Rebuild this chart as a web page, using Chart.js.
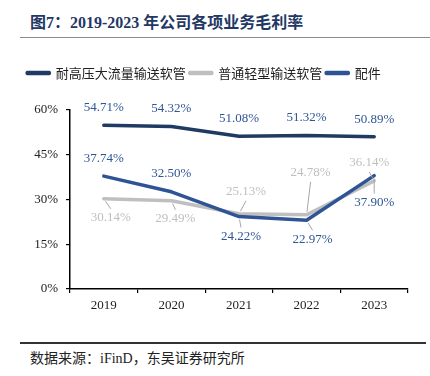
<!DOCTYPE html>
<html>
<head>
<meta charset="utf-8">
<script src="https://cdn.jsdelivr.net/npm/chart.js@4.4.0/dist/chart.umd.min.js"></script>
<style>
  body { margin: 0; width: 430px; height: 376px; background: #fff; position: relative; overflow: hidden; }
  .title { position: absolute; left: 30px; top: 9px; font: bold 16px "Liberation Serif", "Noto Sans CJK SC", serif; color: #1F3864; white-space: nowrap; }
  .rule-top { position: absolute; left: 20px; top: 37px; width: 410px; height: 1px; background: #8c8c8c; }
  .rule-bottom { position: absolute; left: 20px; top: 342px; width: 406px; height: 2px; background: #333; }
  .source { position: absolute; left: 30px; top: 347px; font: 14px "Liberation Serif", "Noto Sans CJK SC", serif; color: #222; white-space: nowrap; }
  #wrap { position: absolute; left: 0; top: 45px; width: 430px; height: 290px; }
</style>
</head>
<body>
<div class="title">图7：2019-2023 年公司各项业务毛利率</div>
<div class="rule-top"></div>
<div id="wrap"><canvas id="chart"></canvas></div>
<div class="rule-bottom"></div>
<div class="source">数据来源：iFinD，东吴证券研究所</div>

<script>
// data
const years = ['2019', '2020', '2021', '2022', '2023'];
const seriesNames = ['耐高压大流量输送软管', '普通轻型输送软管', '配件'];
const heavyHose = [54.71, 54.32, 51.08, 51.32, 50.89];
const lightHose = [30.14, 29.49, 25.13, 24.78, 36.14];
const parts = [37.74, 32.50, 24.22, 22.97, 37.90];
const yTicks = [0, 15, 30, 45, 60];

// label placement per dataset: [dx, dy, leader line]
const labelPos = [
  [[0, -18], [0, -18], [0, -18], [0, -18], [0, -17]],
  [[7, 19, 1], [4, 18, 1], [7, -22, 1], [4, -42, 1], [-5, -18, 1]],
  [[0, -18], [0, -18], [2, 20, 1], [6, 19, 1], [0, 27, 1]]
];
const labelColors = ['#2F5597', '#BFBFBF', '#2F5597'];

const valueLabels = {
  id: 'valueLabels',
  afterDatasetsDraw(chart) {
    const ctx = chart.ctx;
    ctx.save();
    ctx.font = '13px "Liberation Serif", serif';
    ctx.textAlign = 'center';
    ctx.textBaseline = 'middle';
    chart.data.datasets.forEach((ds, di) => {
      const meta = chart.getDatasetMeta(di);
      meta.data.forEach((pt, i) => {
        const [dx, dy, leader] = labelPos[di][i];
        const lx = pt.x + dx, ly = pt.y + dy;
        if (leader) {
          const ex = lx, ey = ly - Math.sign(dy) * 9;
          const len = Math.hypot(ex - pt.x, ey - pt.y);
          const sx = pt.x + (ex - pt.x) / len * 3, sy = pt.y + (ey - pt.y) / len * 3;
          ctx.strokeStyle = '#A6A6A6';
          ctx.lineWidth = 1;
          ctx.beginPath();
          ctx.moveTo(sx, sy);
          ctx.lineTo(ex, ey);
          ctx.stroke();
        }
        ctx.fillStyle = labelColors[di];
        ctx.fillText(ds.data[i].toFixed(2) + '%', lx, ly);
      });
    });
    ctx.restore();
  }
};

const legendGap = {
  id: 'legendGap',
  beforeInit(chart) {
    const fit = chart.legend.fit;
    chart.legend.fit = function () {
      fit.bind(chart.legend)();
      this.height += 20;
    };
  }
};

new Chart(document.getElementById('chart'), {
  type: 'line',
  data: {
    labels: years,
    datasets: [
      { label: seriesNames[0], data: heavyHose, borderColor: '#1F3B63', backgroundColor: '#1F3B63', order: 2 },
      { label: seriesNames[1], data: lightHose, borderColor: '#BFBFBF', backgroundColor: '#BFBFBF', order: 1 },
      { label: seriesNames[2], data: parts, borderColor: '#2F5496', backgroundColor: '#2F5496', order: 0 }
    ]
  },
  options: {
    responsive: true,
    maintainAspectRatio: false,
    animation: false,
    layout: { padding: { left: 0, right: 22, top: 17.5, bottom: 16 } },
    elements: {
      line: { borderWidth: 3.5, tension: 0, borderCapStyle: 'round', borderJoinStyle: 'round' },
      point: { radius: 0, hoverRadius: 0 }
    },
    plugins: {
      legend: {
        position: 'top',
        labels: {
          boxWidth: 22,
          boxHeight: 1,
          padding: 4,
          color: '#222',
          font: { family: '"Noto Sans CJK SC", sans-serif', size: 13 },
          sort: (a, b) => a.datasetIndex - b.datasetIndex
        }
      },
      tooltip: { enabled: false }
    },
    scales: {
      x: {
        offset: true,
        grid: { offset: true, drawOnChartArea: false, drawTicks: true, tickLength: 4, color: '#000', lineWidth: 1.2 },
        border: { display: true, color: '#000', width: 1.5 },
        ticks: { color: '#222', padding: 5, font: { family: '"Liberation Serif", serif', size: 13 } },
        afterFit: s => { s.height = 30; }
      },
      y: {
        min: yTicks[0],
        max: yTicks[yTicks.length - 1],
        afterBuildTicks: s => { s.ticks = yTicks.map(v => ({ value: v })); },
        grid: { drawOnChartArea: false, drawTicks: true, tickLength: 4, color: '#000', lineWidth: 1.2 },
        border: { display: true, color: '#000', width: 1.5 },
        ticks: { color: '#222', padding: 8, font: { family: '"Liberation Serif", serif', size: 13 }, callback: v => v + '%' },
        afterFit: s => { s.width = 70; }
      }
    }
  },
  plugins: [valueLabels, legendGap]
});
</script>
</body>
</html>
